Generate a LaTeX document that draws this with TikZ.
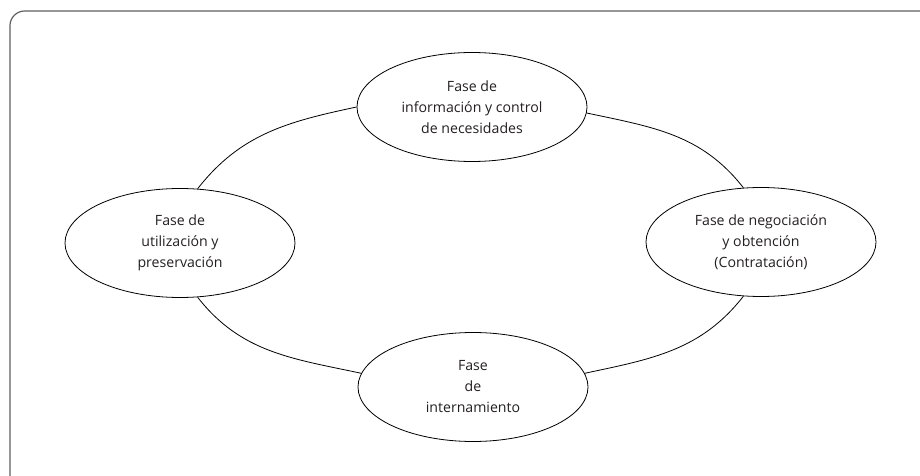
\documentclass[tikz,border=0pt]{standalone}
\usepackage{fontspec}
\setmainfont{Open Sans}
\usepackage{tikz}
\usetikzlibrary{positioning, shapes.geometric}
\definecolor{framegray}{RGB}{95,95,95}
\definecolor{inktext}{RGB}{35,31,32}
\tikzset{
  phase/.style={
    ellipse, draw=black, line width=0.6pt, inner sep=0pt,
    minimum width=172.5pt, minimum height=81.75pt,
    align=center, text=inktext, font=\fontsize{10.6}{15.75}\selectfont
  },
  link/.style={draw=black, line width=0.6pt},
}
\begin{document}
\begin{tikzpicture}[x=0.75pt, y=0.75pt]
  \useasboundingbox (0,0) rectangle (920,475);
  \clip (0,0) rectangle (920,475);
  % outer frame, cut at the right and at the bottom
  \draw[framegray, line width=0.9pt, rounded corners=11pt] (10,464) rectangle (940,-20);

  % the four phases
  \node[phase] (info)   at (472,368) {Fase de\\información y control\\de necesidades};
  \node[phase] (uso)    at (180,232) {Fase de\\utilización y\\preservación};
  \node[phase] (neg)    at (761,233) {Fase de negociación\\y obtención\\(Contratación)};
  \node[phase] (intern) at (473,88)  {Fase\\de\\internamiento};

  % cycle
  \path[link] (info.180)   to[out=192, in=52]  (uso.72);
  \path[link] (info.-3)    to[out=-12, in=128] (neg.108);
  \path[link] (intern.173) to[out=168, in=-52] (uso.-72);
  \path[link] (intern.7)   to[out=12,  in=232] (neg.-108);
\end{tikzpicture}
\end{document}
